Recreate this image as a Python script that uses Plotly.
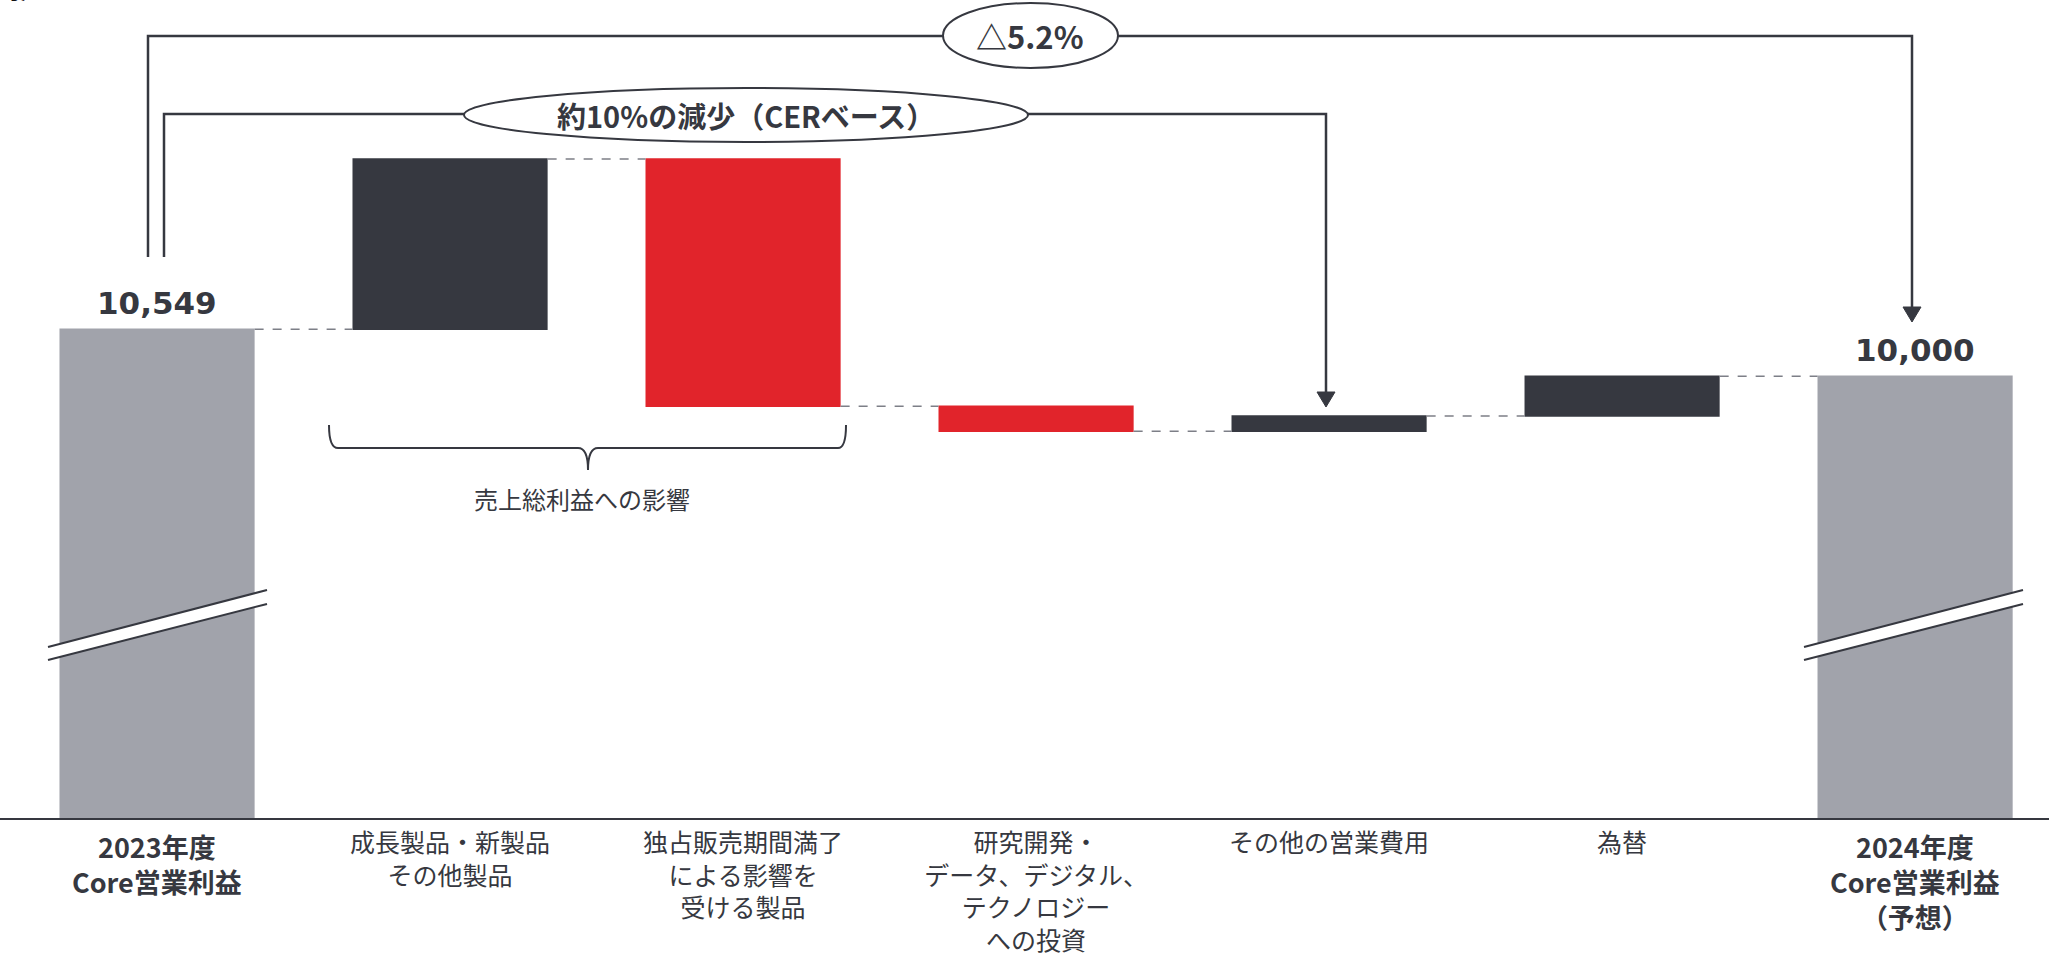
import plotly.graph_objects as go

# ---------------- data ----------------
labels = [
    "2023年度<br>Core営業利益",
    "成長製品・新製品<br>その他製品",
    "独占販売期間満了<br>による影響を<br>受ける製品",
    "研究開発・<br>データ、デジタル、<br>テクノロジー<br>への投資",
    "その他の営業費用",
    "為替",
    "2024年度<br>Core営業利益<br>（予想）",
]
is_total = [True, False, False, False, False, False, True]
values = [10549, 1990, -2890, -290, 176, 465, 10000]
measures = ["absolute", "relative", "relative", "relative", "relative", "relative", "total"]
total_labels = ["10,549", "10,000"]
bracket_outer_text = "△5.2%"
bracket_inner_text = "約10%の減少（CERベース）"
brace_text = "売上総利益への影響"
unit_text = "（億円）"

# ---------------- style ----------------
W, H = 2049, 958
PLOT_BOTTOM = 818          # pixel y of x-axis line
DARK = "#363840"
RED = "#E1242B"
GREY = "#A1A3AB"
FONT = "Noto Sans CJK JP"

x_pos = list(range(len(labels)))


def px(p):
    return p / W


def py(p):
    return (PLOT_BOTTOM - p) / PLOT_BOTTOM


fig = go.Figure()
fig.add_trace(go.Waterfall(
    x=x_pos, y=values, measure=measures, width=0.666,
    increasing=dict(marker=dict(color=DARK, line=dict(width=0))),
    decreasing=dict(marker=dict(color=RED, line=dict(width=0))),
    totals=dict(marker=dict(color=GREY, line=dict(width=0))),
    connector=dict(mode="between", line=dict(color="#7d7f87", width=1.5, dash="dash")),
    textinfo="none", hoverinfo="skip", showlegend=False,
))

shapes = []
line_style = dict(color=DARK, width=2.5)

# outer bracket (△5.2%)
shapes.append(dict(type="path", xref="paper", yref="paper",
                   path=f"M {px(148)} {py(257)} L {px(148)} {py(36)} L {px(1912)} {py(36)} L {px(1912)} {py(308)}",
                   line=line_style))
shapes.append(dict(type="path", xref="paper", yref="paper",
                   path=f"M {px(1903)} {py(307)} L {px(1921)} {py(307)} L {px(1912)} {py(322)} Z",
                   fillcolor=DARK, line=dict(color=DARK, width=1)))
# inner bracket (約10%)
shapes.append(dict(type="path", xref="paper", yref="paper",
                   path=f"M {px(164)} {py(257)} L {px(164)} {py(114)} L {px(1326)} {py(114)} L {px(1326)} {py(393)}",
                   line=line_style))
shapes.append(dict(type="path", xref="paper", yref="paper",
                   path=f"M {px(1317)} {py(392)} L {px(1335)} {py(392)} L {px(1326)} {py(407)} Z",
                   fillcolor=DARK, line=dict(color=DARK, width=1)))
# ellipses
shapes.append(dict(type="circle", xref="paper", yref="paper",
                   x0=px(943), x1=px(1118), y0=py(68), y1=py(3),
                   fillcolor="white", line=dict(color=DARK, width=2)))
shapes.append(dict(type="circle", xref="paper", yref="paper",
                   x0=px(464), x1=px(1028), y0=py(142), y1=py(88),
                   fillcolor="white", line=dict(color=DARK, width=2)))

# curly brace under the gross-profit items
shapes.append(dict(type="path", xref="paper", yref="paper",
                   path=(f"M {px(329)} {py(425)} Q {px(329)} {py(448)} {px(338)} {py(448)} "
                         f"L {px(578)} {py(448)} Q {px(588)} {py(448)} {px(588)} {py(470)} "
                         f"Q {px(588)} {py(448)} {px(598)} {py(448)} "
                         f"L {px(838)} {py(448)} Q {px(846)} {py(448)} {px(846)} {py(425)}"),
                   line=dict(color=DARK, width=2)))

# axis-break marks on the two total bars
for cx in (157, 1913):
    xl, xr = cx - 109, cx + 110
    shapes.append(dict(type="path", xref="paper", yref="paper",
                       path=f"M {px(xl)} {py(647)} L {px(xr)} {py(590)} L {px(xr)} {py(604)} L {px(xl)} {py(660)} Z",
                       fillcolor="white", line=dict(width=0)))
    shapes.append(dict(type="line", xref="paper", yref="paper",
                       x0=px(xl), y0=py(647), x1=px(xr), y1=py(590), line=dict(color=DARK, width=2)))
    shapes.append(dict(type="line", xref="paper", yref="paper",
                       x0=px(xl), y0=py(660), x1=px(xr), y1=py(604), line=dict(color=DARK, width=2)))

annotations = []
# total value labels
for i, txt in ((0, total_labels[0]), (len(values) - 1, total_labels[1])):
    annotations.append(dict(x=x_pos[i], y=values[i], xref="x", yref="y", text=f"<b>{txt}</b>",
                            showarrow=False, xanchor="center", yanchor="bottom", yshift=6,
                            font=dict(family="DejaVu Sans", size=31, color=DARK)))
# bold category labels for the two totals
for i, lab in enumerate(labels):
    if is_total[i]:
        annotations.append(dict(x=x_pos[i], y=py(825), xref="x", yref="paper", text=f"<b>{lab}</b>",
                                showarrow=False, xanchor="center", yanchor="top",
                                font=dict(family=FONT, size=27, color=DARK)))
annotations.append(dict(x=px(1030), y=py(36), xref="paper", yref="paper", text=f"<b>{bracket_outer_text}</b>",
                        showarrow=False, xanchor="center", yanchor="middle",
                        font=dict(family=FONT, size=31, color=DARK)))
annotations.append(dict(x=px(746), y=py(115), xref="paper", yref="paper", text=f"<b>{bracket_inner_text}</b>",
                        showarrow=False, xanchor="center", yanchor="middle",
                        font=dict(family=FONT, size=29, color=DARK)))
annotations.append(dict(x=px(582), y=py(498), xref="paper", yref="paper", text=brace_text,
                        showarrow=False, xanchor="center", yanchor="middle",
                        font=dict(family=FONT, size=24, color=DARK)))
annotations.append(dict(x=px(48), y=py(7), xref="paper", yref="paper", text=f"<b>{unit_text}</b>",
                        showarrow=False, xanchor="right", yanchor="bottom",
                        font=dict(family=FONT, size=26, color="#111111")))

ticktext = ["" if is_total[i] else lab for i, lab in enumerate(labels)]

fig.update_layout(
    width=W, height=H,
    margin=dict(l=0, r=0, t=0, b=H - PLOT_BOTTOM, autoexpand=False),
    paper_bgcolor="white", plot_bgcolor="white",
    shapes=shapes, annotations=annotations,
    xaxis=dict(range=[-0.536, 6.457], tickvals=x_pos, ticktext=ticktext, ticks="",
               automargin=False, ticklabelstandoff=2,
               showgrid=False, zeroline=False, showline=True, linecolor=DARK, linewidth=2,
               tickfont=dict(family=FONT, size=25, color=DARK), fixedrange=True),
    yaxis=dict(range=[4840, 14395], visible=False, showgrid=False, zeroline=False, fixedrange=True),
    font=dict(family=FONT),
)

fig.write_html("out.html", config=dict(displayModeBar=False))
